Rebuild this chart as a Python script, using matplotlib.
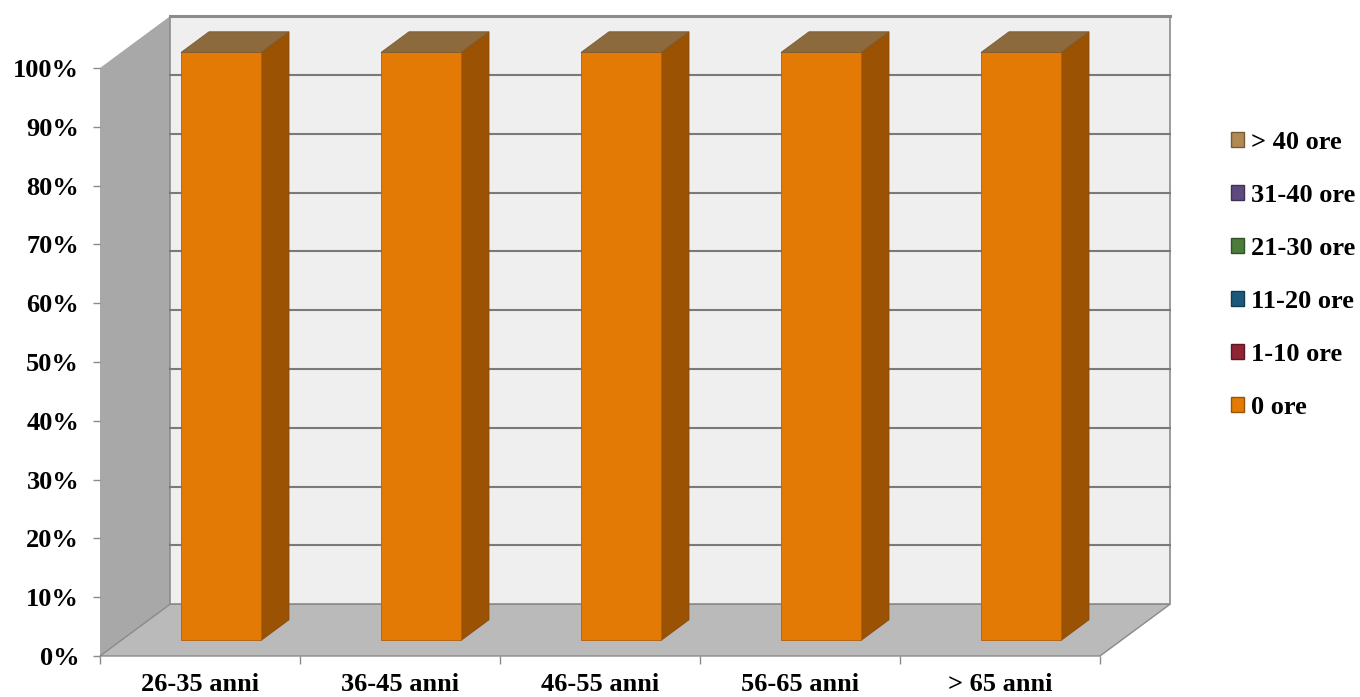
import matplotlib

matplotlib.use("Agg")
import matplotlib.pyplot as plt  # noqa: E402
from matplotlib.patches import Patch, Polygon, Rectangle  # noqa: E402

categories = ["26-35 anni", "36-45 anni", "46-55 anni", "56-65 anni", "> 65 anni"]
series = ["0 ore", "1-10 ore", "11-20 ore", "21-30 ore", "31-40 ore", "> 40 ore"]
pct_0 = [100, 100, 100, 100, 100]
pct_1_10 = [0, 0, 0, 0, 0]
pct_11_20 = [0, 0, 0, 0, 0]
pct_21_30 = [0, 0, 0, 0, 0]
pct_31_40 = [0, 0, 0, 0, 0]
pct_40 = [0, 0, 0, 0, 0]
values = [pct_0, pct_1_10, pct_11_20, pct_21_30, pct_31_40, pct_40]

front_cols = ["#e27a05", "#8e2434", "#1d5a7a", "#4a7c3a", "#5f4a80", "#b08a52"]
side_cols = ["#9c5203", "#5e1822", "#133c52", "#315226", "#3f3155", "#765c36"]
top_cols = ["#8c6a3e", "#6e2a33", "#1a4a60", "#3c6430", "#4d3d68", "#93744a"]

# 3D depth vector in data units (x: category, y: percent)
DX, DY = 0.35, 8.8
BAR_Z0, BAR_DEPTH, BAR_W = 0.3, 0.4, 0.4

FONT = dict(family="Liberation Serif", weight="bold", size=19)

fig = plt.figure(figsize=(13.6, 6.97), dpi=100)
ax = fig.add_axes([100 / 1360, 41 / 697, 1000 / 1360, 588 / 697])
n = len(categories)
ax.set_xlim(0, n)
ax.set_ylim(0, 100)

# side wall
ax.add_patch(Polygon([(0, 0), (0, 100), (DX, 100 + DY), (DX, DY)],
                     closed=True, fc="#a8a8a8", ec="none", clip_on=False, zorder=1))
# floor
ax.add_patch(Polygon([(0, 0), (n, 0), (n + DX, DY), (DX, DY)],
                     closed=True, fc="#bababa", ec="#8a8a8a", lw=1.0, clip_on=False, zorder=1))
# back wall
ax.add_patch(Rectangle((DX, DY), n, 100, fc="#efefef", ec="#8c8c8c", lw=1.2,
                       clip_on=False, zorder=1))
ax.plot([DX, n + DX], [100 + DY, 100 + DY], color="#8c8c8c", lw=2.2,
        clip_on=False, zorder=2)
for g in range(10, 100, 10):
    ax.plot([DX, n + DX], [g + DY, g + DY], color="#7a7a7a", lw=1.5,
            clip_on=False, zorder=2)

# stacked 3D bars
zx, zy = BAR_Z0 * DX, BAR_Z0 * DY
ddx, ddy = BAR_DEPTH * DX, BAR_DEPTH * DY
bottoms = [0.0] * n
for s, vals in enumerate(values):
    for i, v in enumerate(vals):
        if v <= 0:
            continue
        left = i + (1 - BAR_W) / 2 + zx
        right = left + BAR_W
        b = bottoms[i] + zy
        t = b + v
        ax.add_patch(Polygon([(right, b), (right + ddx, b + ddy), (right + ddx, t + ddy), (right, t)],
                             closed=True, fc=side_cols[s], ec="#8a4a08", lw=0.6,
                             clip_on=False, zorder=4))
        ax.bar(left, v, width=BAR_W, bottom=b, align="edge", color=front_cols[s],
               edgecolor="#b45f06", lw=0.6, clip_on=False, zorder=5)
        if bottoms[i] + v >= sum(col[i] for col in values) - 1e-9:
            ax.add_patch(Polygon([(left, t), (right, t), (right + ddx, t + ddy), (left + ddx, t + ddy)],
                                 closed=True, fc=top_cols[s], ec="#7a5a30", lw=0.6,
                                 clip_on=False, zorder=5))
        bottoms[i] += v

for sp in ax.spines.values():
    sp.set_visible(False)
ax.set_yticks(range(0, 101, 10))
ax.set_yticklabels([f"{t}%" for t in range(0, 101, 10)], fontdict=FONT)
ax.tick_params(axis="y", length=5, width=1, color="#8a8a8a", pad=10)
ax.set_xticks(range(0, n + 1))
ax.set_xticklabels([])
ax.set_xticks([i + 0.5 for i in range(n)], minor=True)
ax.set_xticklabels(categories, minor=True, fontdict=FONT)
ax.tick_params(axis="x", which="major", length=6, width=1, color="#8a8a8a")
ax.tick_params(axis="x", which="minor", length=0, pad=12)

handles = [Patch(fc=front_cols[s], ec=side_cols[s], lw=1.0) for s in range(len(series))][::-1]
fig.legend(handles, series[::-1], loc="center left", bbox_to_anchor=(1231 / 1360, 1 - 275 / 697),
           frameon=False, prop=dict(family="Liberation Serif", weight="bold", size=19),
           handlelength=0.5, handleheight=0.5, handletextpad=0.25, labelspacing=1.14,
           borderpad=0, borderaxespad=0)

fig.savefig("out.png", dpi=100)
